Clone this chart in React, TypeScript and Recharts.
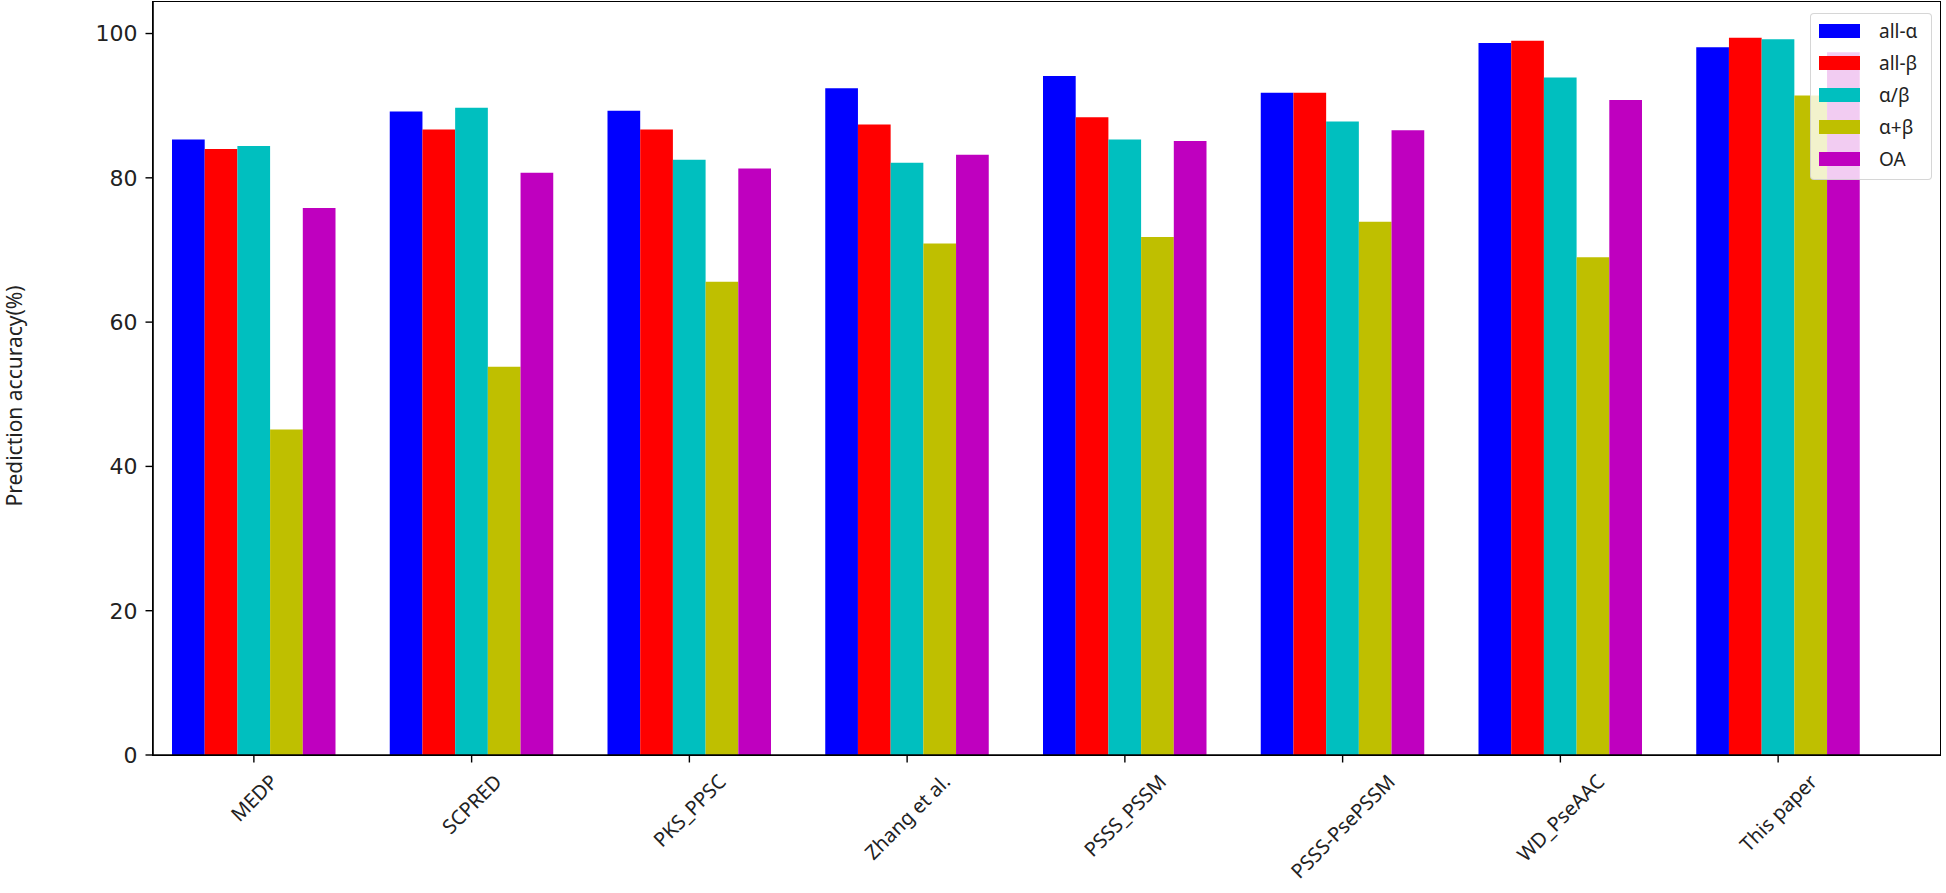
import React from 'react';
import { BarChart, Bar, XAxis, YAxis } from 'recharts';

const categories = ['MEDP', 'SCPRED', 'PKS_PPSC', 'Zhang et al.', 'PSSS_PSSM', 'PSSS-PsePSSM', 'WD_PseAAC', 'This paper'];
const allAlpha = [85.3, 89.2, 89.3, 92.4, 94.1, 91.8, 98.7, 98.1];
const allBeta = [84.0, 86.7, 86.7, 87.4, 88.4, 91.8, 99.0, 99.4];
const alphaSlashBeta = [84.4, 89.7, 82.5, 82.1, 85.3, 87.8, 93.9, 99.2];
const alphaPlusBeta = [45.1, 53.8, 65.6, 70.9, 71.8, 73.9, 69.0, 91.4];
const overall = [75.8, 80.7, 81.3, 83.2, 85.1, 86.6, 90.8, 97.4];
const yTicks = [0, 20, 40, 60, 80, 100];

const series = [
  { key: 'allAlpha', name: 'all-α', color: '#0000ff', values: allAlpha },
  { key: 'allBeta', name: 'all-β', color: '#ff0000', values: allBeta },
  { key: 'alphaSlashBeta', name: 'α/β', color: '#00bfbf', values: alphaSlashBeta },
  { key: 'alphaPlusBeta', name: 'α+β', color: '#bfbf00', values: alphaPlusBeta },
  { key: 'overall', name: 'OA', color: '#bf00bf', values: overall },
];

const data = categories.map((name, i) => {
  const row: any = { name };
  series.forEach(s => { row[s.key] = s.values[i]; });
  return row;
});

const FONT = '"Noto Sans", sans-serif';
const TICK_FS = 20;

// plot area (matches chart margins / axis sizes below)
const W = 1946, H = 893;
const PLOT_LEFT = 153, PLOT_TOP = 2, PLOT_RIGHT = 6, PLOT_BOTTOM = 138;

let measureCtx: CanvasRenderingContext2D | null = null;
function textWidth(text: string, fs: number) {
  if (!measureCtx) measureCtx = document.createElement('canvas').getContext('2d');
  if (!measureCtx) return text.length * fs * 0.6;
  measureCtx.font = `${fs}px ${FONT}`;
  return measureCtx.measureText(text).width;
}

// matplotlib-style rotated label: bbox centered on the tick, top aligned below it
const RotatedTick = (props: any) => {
  const { x, y, payload } = props;
  const w = textWidth(payload.value, TICK_FS);
  const h = TICK_FS * 1.17;
  const bh = (w + h) * Math.SQRT1_2;
  const cy = y + bh / 2;
  return (
    <text
      x={x}
      y={cy}
      textAnchor="middle"
      dominantBaseline="central"
      transform={`rotate(-45 ${x} ${cy})`}
      fontSize={TICK_FS}
      fontFamily={FONT}
      fill="#222"
    >
      {payload.value}
    </text>
  );
};

export default function App() {
  return (
    <div style={{ position: 'absolute', left: 0, top: 0, width: W, height: H, background: '#fff' }}>
      <BarChart
        width={W}
        height={H}
        data={data}
        margin={{ top: PLOT_TOP, right: PLOT_RIGHT, left: 0, bottom: 0 }}
        barGap={0}
        barSize={32.7}
      >
        <XAxis
          dataKey="name"
          height={PLOT_BOTTOM}
          padding={{ left: -8, right: 53 }}
          interval={0}
          tickSize={7.5}
          tickMargin={7}
          axisLine={{ stroke: '#000', strokeWidth: 1.6 }}
          tickLine={{ stroke: '#000', strokeWidth: 1.4 }}
          tick={<RotatedTick />}
        />
        <YAxis
          width={PLOT_LEFT}
          domain={[0, 104.37]}
          ticks={yTicks}
          type="number"
          allowDataOverflow
          tickSize={7.5}
          tickMargin={8}
          axisLine={{ stroke: '#000', strokeWidth: 1.6 }}
          tickLine={{ stroke: '#000', strokeWidth: 1.4 }}
          tick={{ fontSize: 22, fontFamily: '"DejaVu Sans", sans-serif', fill: '#222' }}
          label={{
            content: () => (
              <text
                x={14}
                y={396}
                transform="rotate(-90 14 396)"
                textAnchor="middle"
                dominantBaseline="central"
                fontSize={21}
                fontFamily={FONT}
                fill="#222"
              >
                Prediction accuracy(%)
              </text>
            ),
          }}
        />
        {series.map(s => (
          <Bar key={s.key} dataKey={s.key} name={s.name} fill={s.color} isAnimationActive={false} />
        ))}
      </BarChart>
      {/* axes frame (top and right spines) */}
      <div
        style={{
          position: 'absolute',
          left: PLOT_LEFT - 0.8,
          top: PLOT_TOP - 0.8,
          width: W - PLOT_LEFT - PLOT_RIGHT + 1.6,
          height: H - PLOT_TOP - PLOT_BOTTOM + 1.6,
          boxSizing: 'border-box',
          border: '1.6px solid #000',
          pointerEvents: 'none',
        }}
      />
      <div
        style={{
          position: 'absolute',
          left: 1810,
          top: 13,
          width: 122,
          height: 167,
          boxSizing: 'border-box',
          background: 'rgba(255,255,255,0.8)',
          border: '1px solid rgba(204,204,204,0.8)',
          borderRadius: 4,
          fontFamily: FONT,
          fontSize: 19,
          color: '#222',
        }}
      >
        {series.map((s, i) => (
          <div key={s.key} style={{ position: 'absolute', left: 0, top: 1 + i * 32, height: 32, width: '100%' }}>
            <div style={{ position: 'absolute', left: 8, top: 9, width: 41, height: 14, background: s.color }} />
            <div style={{ position: 'absolute', left: 68, top: 0, lineHeight: '32px' }}>{s.name}</div>
          </div>
        ))}
      </div>
    </div>
  );
}
